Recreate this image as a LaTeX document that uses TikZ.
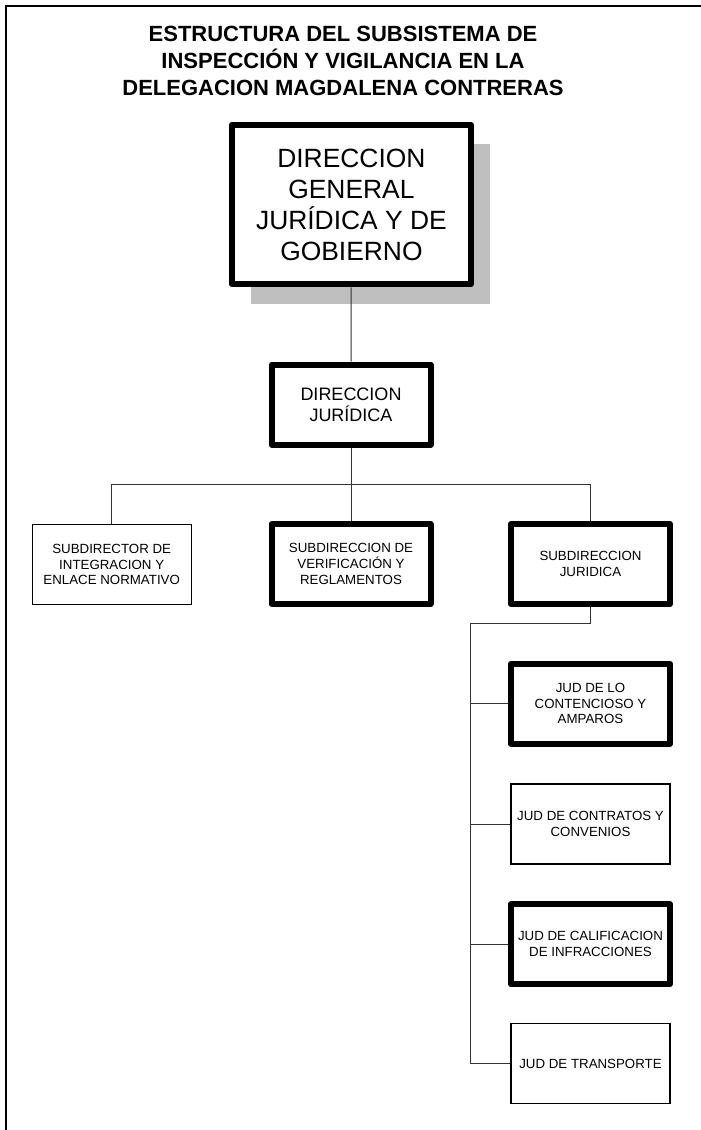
\documentclass[tikz,border=0pt]{standalone}
\usepackage{fontspec}
\setmainfont{Liberation Sans}
\usetikzlibrary{shadows}
\begin{document}
\begin{tikzpicture}[x=1pt,y=-1pt,
  link/.style={draw=black!80, line width=1pt},
  unit/.style={draw, fill=white, minimum width=159pt, minimum height=80pt,
    inner sep=2pt, align=center, font=\fontsize{13.3}{15.6}\selectfont},
  thinunit/.style={unit, line width=1.3pt},
  boldunit/.style={unit, line width=6pt, line join=round},
]
\useasboundingbox (0,0) rectangle (701,1130);

% page frame (top and left rules)
\draw[line width=2pt] (6,1135) -- (6,6) -- (706,6);

% heading
\node[font=\bfseries\fontsize{22}{26.7}\selectfont, align=center, inner sep=0pt]
  (title) at (343,61)
  {ESTRUCTURA DEL SUBSISTEMA DE\\INSPECCIÓN Y VIGILANCIA EN LA\\DELEGACION MAGDALENA CONTRERAS};

% top level
\node[draw, fill=white, line width=6pt, line join=round,
  minimum width=239pt, minimum height=159.6pt, align=center,
  font=\fontsize{26.4}{31}\selectfont,
  drop shadow={shadow xshift=19.5pt, shadow yshift=-19.5pt, fill=black!25, opacity=1}]
  (dg) at (351.4,204.5) {DIRECCION\\GENERAL\\JURÍDICA Y DE\\GOBIERNO};

\node[boldunit, font=\fontsize{18}{21.3}\selectfont] (dj) at (351,404.5) {DIRECCION\\JURÍDICA};

% subdirections
\node[thinunit] (sdi) at (111.7,564.5) {SUBDIRECTOR DE\\INTEGRACION Y\\ENLACE NORMATIVO};
\node[boldunit] (sdv) at (351,564) {SUBDIRECCION DE\\VERIFICACIÓN Y\\REGLAMENTOS};
\node[boldunit] (sdj) at (590.5,564) {SUBDIRECCION\\JURIDICA};

% JUD units
\node[boldunit] (j1) at (590.5,703.7) {JUD DE LO\\CONTENCIOSO Y\\AMPAROS};
\node[thinunit] (j2) at (590.5,824) {JUD DE CONTRATOS Y\\CONVENIOS};
\node[boldunit] (j3) at (590.5,944.2) {JUD DE CALIFICACION\\DE INFRACCIONES};
\node[thinunit] (j4) at (590.5,1063.7) {JUD DE TRANSPORTE};

% connectors
\coordinate (bar) at (351,484.3);
\coordinate (spine) at (470.7,623.3);
\draw[link] (dg) -- (dj);
\draw[link] (dj) -- (bar);
\draw[link] (bar) -- (sdv);
\draw[link] (sdi.north) |- (bar);
\draw[link] (sdj.north) |- (bar);
\draw[link] (sdj.south) |- (spine);
\draw[link] (spine) |- (j1.west);
\draw[link] (spine) |- (j2.west);
\draw[link] (spine) |- (j3.west);
\draw[link] (spine) |- (j4.west);
\end{tikzpicture}
\end{document}
